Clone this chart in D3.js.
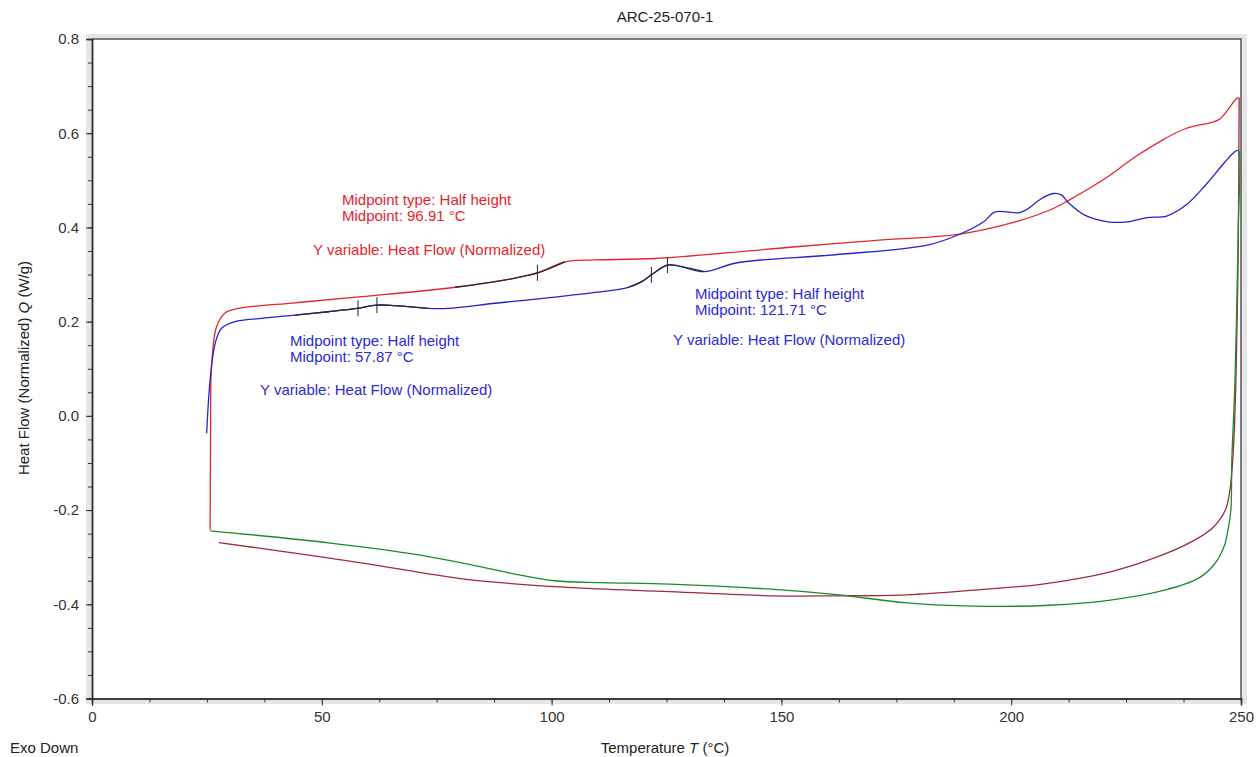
<!DOCTYPE html>
<meta charset="utf-8">
<style>
body { margin: 0; background: #fff; }
svg text { font-family: "Liberation Sans", Arial, sans-serif; }
.axis path, .axis line { stroke: #333; }
.axis text { font-size: 15px; fill: #333; }
</style>
<svg width="1256" height="757"></svg>
<script src="https://d3js.org/d3.v7.min.js"></script>
<script>

// first heat (red), [T, Q]
var heat1 = [[25.7,-0.242],[25.8,-0.05],[26.0,0.104],[27.1,0.189],[28.9,0.218],[31.8,0.228],[44.2,0.24],
  [58.7,0.253],[79,0.273],[91.3,0.291],[97.1,0.304],[102.9,0.327],[109.4,0.331],[122.5,0.334],[153.2,0.359],
  [170,0.372],[188.9,0.386],[199.9,0.409],[208.4,0.437],[212.6,0.458],[221.1,0.508],[227,0.55],[233,0.586],
  [238,0.61],[244,0.624],[245.6,0.632],[249.1,0.674],[249.6,0.675]];

// first cool (brown)
var cool1 = [[249.6,0.675],[249.4,0.359],[248.9,0.076],[248.3,-0.079],[247.6,-0.157],[246.6,-0.2],[243.8,-0.238],
  [239.3,-0.267],[231.9,-0.299],[221.6,-0.331],[206.8,-0.357],[192,-0.37],[177.3,-0.38],[162.5,-0.382],
  [147.8,-0.382],[125.7,-0.373],[103.5,-0.364],[81.4,-0.347],[59.3,-0.313],[44.5,-0.292],[27.6,-0.269]];

// second heat (blue)
var heat2 = [[24.95,-0.037],[25.7,0.076],[26.8,0.154],[28.2,0.186],[31.1,0.2],[36.9,0.207],[44.2,0.214],
  [51.4,0.221],[57.7,0.228],[61.9,0.235],[65.9,0.234],[73.2,0.228],[77.5,0.228],[87.7,0.239],[98.6,0.25],
  [109.4,0.262],[116.7,0.273],[119.6,0.285],[121.8,0.3],[125.2,0.32],[127.7,0.318],[133.2,0.306],[140.4,0.325],
  [161.7,0.342],[182,0.363],[188.9,0.386],[194,0.412],[196.5,0.433],[201.6,0.431],[203.2,0.437],[206.7,0.462],
  [209.2,0.472],[210.9,0.469],[212.6,0.451],[216,0.426],[221.1,0.412],[225.3,0.412],[229.6,0.421],[233.8,0.424],
  [238.1,0.448],[242.3,0.49],[246.6,0.54],[248.7,0.561],[249.3,0.564]];

// second cool (green)
var cool2 = [[249.3,0.564],[249.6,0.56],[249.4,0.4],[249.0,0.2],[248.6,0.05],[248.0,-0.094],[247.8,-0.2],
  [247.2,-0.24],[246.4,-0.275],[244.2,-0.315],[240.7,-0.345],[233.4,-0.37],[221.6,-0.391],[208.3,-0.402],
  [192,-0.404],[177.3,-0.397],[162.5,-0.38],[147.8,-0.368],[125.7,-0.357],[110.9,-0.354],[100.6,-0.35],
  [93.2,-0.338],[84.4,-0.32],[71.1,-0.295],[51.9,-0.27],[25.7,-0.244]];

var xTicks = [0, 50, 100, 150, 200, 250];
var yTicks = [-0.6, -0.4, -0.2, 0.0, 0.2, 0.4, 0.6, 0.8];

// analysis ranges drawn in black over the curves
var redRanges = [[78, 104.5]];
var blueRanges = [[40, 77], [110, 134]];

// marker temps
var redMarks = [96.91];
var blueMarks = [57.87, 62, 121.71, 125.2];

var svg = d3.select("svg");

var x = d3.scaleLinear().domain([0, 250]).range([92, 1241]);
var y = d3.scaleLinear().domain([-0.6, 0.8]).range([698.5, 39]);

// frame shading
svg.append("rect").attr("x", 86).attr("y", 34).attr("width", 1161).attr("height", 670).attr("fill", "#e6e6e6");
svg.append("rect").attr("x", 92).attr("y", 39).attr("width", 1149).attr("height", 659.5).attr("fill", "#fff");
svg.append("path").attr("d", "M92,39H1241V698.5").attr("fill", "none").attr("stroke", "#555").attr("stroke-width", 1.5);

// minor ticks
svg.append("g").attr("class", "axis").attr("transform", "translate(0,698.5)")
  .call(d3.axisBottom(x).tickValues(d3.range(0, 251, 12.5)).tickSize(4).tickFormat(""));
svg.append("g").attr("class", "axis").attr("transform", "translate(92,0)")
  .call(d3.axisLeft(y).tickValues(d3.range(-0.6, 0.81, 0.05)).tickSize(4).tickFormat(""));

svg.append("g").attr("class", "axis").attr("transform", "translate(0,698.5)")
  .call(d3.axisBottom(x).tickValues(xTicks).tickSize(7).tickPadding(6));
svg.append("g").attr("class", "axis").attr("transform", "translate(92,0)")
  .call(d3.axisLeft(y).tickValues(yTicks).tickSize(6).tickPadding(7).tickFormat(function(d) { return d.toFixed(1); }));

svg.selectAll(".axis path").attr("stroke-width", 1.5);

var line = d3.line()
  .x(function(d) { return x(d[0]); })
  .y(function(d) { return y(d[1]); })
  .curve(d3.curveCatmullRom.alpha(0.5));

function draw(data, color, w) {
  svg.append("path").datum(data).attr("d", line)
    .attr("fill", "none").attr("stroke", color).attr("stroke-width", w);
}

draw(cool1, "#9e2c38", 1.3);
draw(cool2, "#1f8a2a", 1.3);
draw(heat1, "#e3262e", 1.3);
draw(heat2, "#2424c8", 1.3);

function inRange(data, r) {
  return data.filter(function(d) { return d[0] >= r[0] && d[0] <= r[1]; });
}
redRanges.forEach(function(r) { draw(inRange(heat1, r), "#2a2a2a", 1.3); });
blueRanges.forEach(function(r) { draw(inRange(heat2, r), "#2a2a2a", 1.3); });

function valueAt(data, t) {
  for (var i = 1; i < data.length; i++) {
    var a = data[i - 1], b = data[i];
    if (t >= a[0] && t <= b[0]) return a[1] + (b[1] - a[1]) * (t - a[0]) / (b[0] - a[0]);
  }
  return data[data.length - 1][1];
}

function marks(data, temps) {
  temps.forEach(function(t) {
    var py = y(valueAt(data, t));
    svg.append("line").attr("x1", x(t)).attr("x2", x(t)).attr("y1", py - 8).attr("y2", py + 8)
      .attr("stroke", "#222").attr("stroke-width", 1);
  });
}
marks(heat1, redMarks);
marks(heat2, blueMarks);

// annotations
function note(px, py, lines, color) {
  var t = svg.append("text").attr("x", px).attr("y", py).attr("fill", color).style("font-size", "15px");
  lines.forEach(function(s, i) {
    t.append("tspan").attr("x", px).attr("dy", i ? 16 : 0).text(s);
  });
}
note(342, 205, ["Midpoint type: Half height", "Midpoint: 96.91 °C"], "#e3262e");
note(313, 255, ["Y variable: Heat Flow (Normalized)"], "#e3262e");
note(290, 346, ["Midpoint type: Half height", "Midpoint: 57.87 °C"], "#2b2bd0");
note(260, 395, ["Y variable: Heat Flow (Normalized)"], "#2b2bd0");
note(695, 299, ["Midpoint type: Half height", "Midpoint: 121.71 °C"], "#2b2bd0");
note(673, 345, ["Y variable: Heat Flow (Normalized)"], "#2b2bd0");

// titles
svg.append("text").attr("x", 665).attr("y", 22).attr("text-anchor", "middle")
  .style("font-size", "15px").attr("fill", "#222").text("ARC-25-070-1");

var xl = svg.append("text").attr("x", 665).attr("y", 753).attr("text-anchor", "middle")
  .style("font-size", "15px").attr("fill", "#222");
xl.append("tspan").text("Temperature  ");
xl.append("tspan").style("font-style", "italic").text("T");
xl.append("tspan").text("  (°C)");

var yl = svg.append("text").attr("transform", "translate(29,368) rotate(-90)").attr("text-anchor", "middle")
  .style("font-size", "15px").attr("fill", "#222");
yl.append("tspan").text("Heat Flow (Normalized)  ");
yl.append("tspan").style("font-style", "italic").text("Q");
yl.append("tspan").text("  (W/g)");

svg.append("text").attr("x", 10).attr("y", 753).style("font-size", "15px").attr("fill", "#222").text("Exo Down");

</script>
